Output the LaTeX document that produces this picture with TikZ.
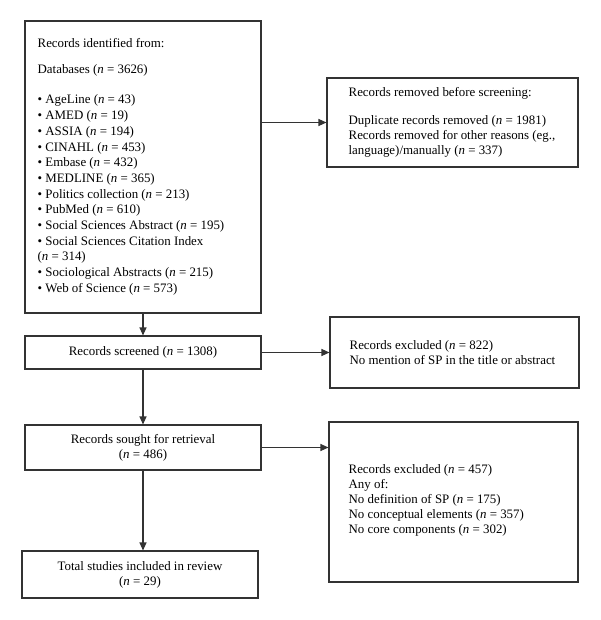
\documentclass[tikz,border=0pt]{standalone}
\usepackage{fontspec}
\setmainfont{Liberation Serif}
\usetikzlibrary{arrows.meta}
\definecolor{linecol}{HTML}{333333}
\newcommand{\fsA}{\fontsize{12.9}{15.7}\selectfont}
\newcommand{\fsB}{\fontsize{12.9}{15}\selectfont}
\newcommand{\nn}{\textit{n}}
\begin{document}
\begin{tikzpicture}[x=1pt,y=-1pt,
  box/.style={draw=linecol, line width=1.1pt, rectangle, inner sep=0pt, align=center, font=\fsB},
  txt/.style={inner sep=0pt, align=left, font=\fsB, anchor=west},
  arr/.style={draw=linecol, line width=1.1pt, -{Triangle[length=8pt,width=7pt]}}]
\useasboundingbox (0,0) rectangle (600,620);
% boxes
\node[box, minimum width=236pt, minimum height=292pt] (id) at (143,167) {};
\node[txt, font=\fsA] (idt) at ([xshift=13pt]id.west) {Records identified from:\\[10.3pt]
Databases (\nn{} = 3626)\\[14.3pt]
\textbullet\ AgeLine (\nn{} = 43)\\
\textbullet\ AMED (\nn{} = 19)\\
\textbullet\ ASSIA (\nn{} = 194)\\
\textbullet\ CINAHL (\nn{} = 453)\\
\textbullet\ Embase (\nn{} = 432)\\
\textbullet\ MEDLINE (\nn{} = 365)\\
\textbullet\ Politics collection (\nn{} = 213)\\
\textbullet\ PubMed (\nn{} = 610)\\
\textbullet\ Social Sciences Abstract (\nn{} = 195)\\
\textbullet\ Social Sciences Citation Index\\
(\nn{} = 314)\\
\textbullet\ Sociological Abstracts (\nn{} = 215)\\
\textbullet\ Web of Science (\nn{} = 573)};

\node[box, minimum width=251pt, minimum height=89pt] (rem) at (452.5,122.5) {};
\node[txt] (remt) at ([xshift=22pt]rem.west) {Records removed before screening:\\[13pt]
Duplicate records removed (\nn{} = 1981)\\
Records removed for other reasons (eg.,\\
language)/manually (\nn{} = 337)};

\node[box, minimum width=236pt, minimum height=33pt] (scr) at (143,352.5) {Records screened (\nn{} = 1308)};

\node[box, minimum width=249pt, minimum height=71pt] (ex1) at (454.5,352.5) {};
\node[txt] (ex1t) at ([xshift=20pt]ex1.west) {Records excluded (\nn{} = 822)\\
No mention of SP in the title or abstract};

\node[box, minimum width=236pt, minimum height=45pt] (sou) at (143,447.5) {Records sought for retrieval\\(\nn{} = 486)};

\node[box, minimum width=249pt, minimum height=160pt] (ex2) at (453.5,502) {};
\node[txt] (ex2t) at ([xshift=20pt,yshift=2pt]ex2.west) {Records excluded (\nn{} = 457)\\
Any of:\\
No definition of SP (\nn{} = 175)\\
No conceptual elements (\nn{} = 357)\\
No core components (\nn{} = 302)};

\node[box, minimum width=236pt, minimum height=47pt] (tot) at (140,574.5) {Total studies included in review\\(\nn{} = 29)};

% connectors
\draw[arr] (id.east |- rem.west) -- (rem.west);
\draw[arr] (id.south) -- (scr.north);
\draw[arr] (scr.east) -- (ex1.west);
\draw[arr] (scr.south) -- (sou.north);
\draw[arr] (sou.east) -- (sou.east -| ex2.west);
\draw[arr] (sou.south) -- (sou.south |- tot.north);
\end{tikzpicture}
\end{document}
